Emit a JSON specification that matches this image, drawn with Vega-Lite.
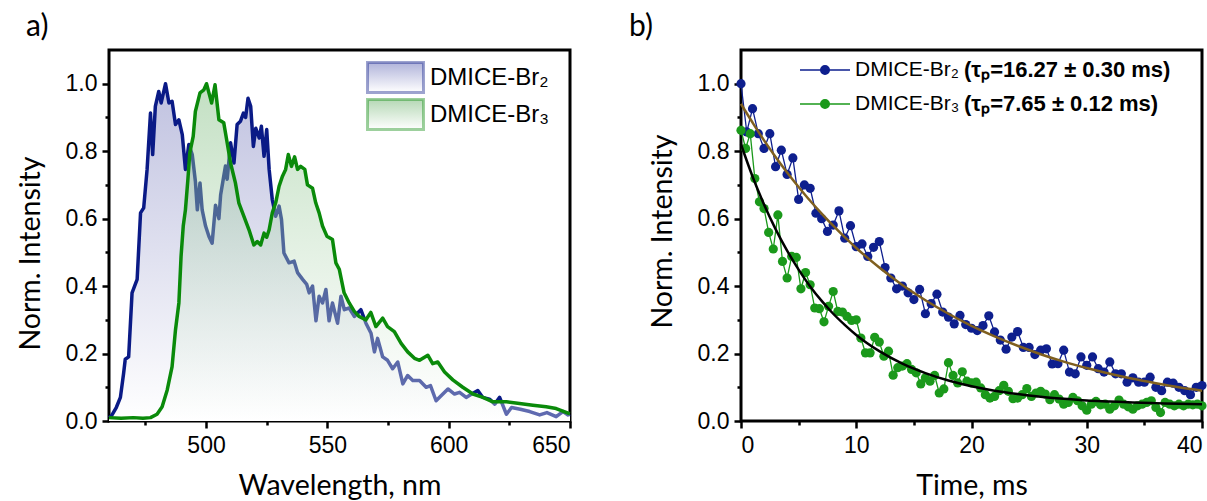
{
  "$schema": "https://vega.github.io/schema/vega-lite/v6.json",
  "background": "white",
  "padding": {"left": 14, "top": 10, "right": 0, "bottom": 0},
  "bounds": "flush",
  "spacing": 171,
  "config": {
    "font": "Liberation Sans",
    "view": {"stroke": "black", "strokeWidth": 3},
    "axis": {
      "domain": false, "grid": false,
      "labelFont": "Liberation Sans", "labelFontSize": 23, "labelColor": "black",
      "titleFont": "Lato", "titleFontSize": 28.5, "titleFontWeight": "normal", "titleColor": "black",
      "tickColor": "black", "tickWidth": 2.5
    },
    "legend": {"padding": 0}
  },
  "datasets": {
    "spec": [
      {"s":"DMICE-Br₂","w":460,"v":0.01},{"s":"DMICE-Br₂","w":461,"v":0.015},{"s":"DMICE-Br₂","w":463,"v":0.04},{"s":"DMICE-Br₂","w":464.7,"v":0.07},{"s":"DMICE-Br₂","w":466,"v":0.14},{"s":"DMICE-Br₂","w":466.7,"v":0.183},{"s":"DMICE-Br₂","w":468.1,"v":0.19},{"s":"DMICE-Br₂","w":469.5,"v":0.38},{"s":"DMICE-Br₂","w":471.6,"v":0.42},{"s":"DMICE-Br₂","w":473,"v":0.617},{"s":"DMICE-Br₂","w":474.3,"v":0.632},{"s":"DMICE-Br₂","w":475.7,"v":0.746},{"s":"DMICE-Br₂","w":477.1,"v":0.913},{"s":"DMICE-Br₂","w":478,"v":0.79},{"s":"DMICE-Br₂","w":479.1,"v":0.933},{"s":"DMICE-Br₂","w":480.5,"v":0.977},{"s":"DMICE-Br₂","w":481.5,"v":0.943},{"s":"DMICE-Br₂","w":483.3,"v":1.0},{"s":"DMICE-Br₂","w":484.7,"v":0.943},{"s":"DMICE-Br₂","w":486,"v":0.948},{"s":"DMICE-Br₂","w":487.4,"v":0.879},{"s":"DMICE-Br₂","w":488.8,"v":0.893},{"s":"DMICE-Br₂","w":490.2,"v":0.849},{"s":"DMICE-Br₂","w":491.5,"v":0.746},{"s":"DMICE-Br₂","w":492.9,"v":0.82},{"s":"DMICE-Br₂","w":494.3,"v":0.79},{"s":"DMICE-Br₂","w":495.6,"v":0.711},{"s":"DMICE-Br₂","w":496.4,"v":0.626},{"s":"DMICE-Br₂","w":497.5,"v":0.706},{"s":"DMICE-Br₂","w":498.4,"v":0.626},{"s":"DMICE-Br₂","w":499.8,"v":0.578},{"s":"DMICE-Br₂","w":501.2,"v":0.547},{"s":"DMICE-Br₂","w":502.5,"v":0.527},{"s":"DMICE-Br₂","w":503.9,"v":0.64},{"s":"DMICE-Br₂","w":505.3,"v":0.6},{"s":"DMICE-Br₂","w":506,"v":0.67},{"s":"DMICE-Br₂","w":507.3,"v":0.726},{"s":"DMICE-Br₂","w":508,"v":0.756},{"s":"DMICE-Br₂","w":508.7,"v":0.717},{"s":"DMICE-Br₂","w":509.4,"v":0.77},{"s":"DMICE-Br₂","w":510.1,"v":0.825},{"s":"DMICE-Br₂","w":511.5,"v":0.765},{"s":"DMICE-Br₂","w":512.8,"v":0.879},{"s":"DMICE-Br₂","w":514.2,"v":0.889},{"s":"DMICE-Br₂","w":515.4,"v":0.913},{"s":"DMICE-Br₂","w":516.3,"v":0.9},{"s":"DMICE-Br₂","w":517.3,"v":0.957},{"s":"DMICE-Br₂","w":518.4,"v":0.933},{"s":"DMICE-Br₂","w":519.5,"v":0.814},{"s":"DMICE-Br₂","w":520.5,"v":0.868},{"s":"DMICE-Br₂","w":521.9,"v":0.839},{"s":"DMICE-Br₂","w":522.8,"v":0.874},{"s":"DMICE-Br₂","w":523.9,"v":0.785},{"s":"DMICE-Br₂","w":525,"v":0.864},{"s":"DMICE-Br₂","w":526,"v":0.746},{"s":"DMICE-Br₂","w":527.3,"v":0.656},{"s":"DMICE-Br₂","w":528.7,"v":0.607},{"s":"DMICE-Br₂","w":530.1,"v":0.637},{"s":"DMICE-Br₂","w":531.1,"v":0.597},{"s":"DMICE-Br₂","w":532.1,"v":0.498},{"s":"DMICE-Br₂","w":534.2,"v":0.469},{"s":"DMICE-Br₂","w":536.3,"v":0.474},{"s":"DMICE-Br₂","w":537.7,"v":0.44},{"s":"DMICE-Br₂","w":539.8,"v":0.42},{"s":"DMICE-Br₂","w":541.5,"v":0.405},{"s":"DMICE-Br₂","w":542.5,"v":0.38},{"s":"DMICE-Br₂","w":543.9,"v":0.4},{"s":"DMICE-Br₂","w":545.3,"v":0.297},{"s":"DMICE-Br₂","w":546.6,"v":0.37},{"s":"DMICE-Br₂","w":548,"v":0.35},{"s":"DMICE-Br₂","w":549.4,"v":0.39},{"s":"DMICE-Br₂","w":550.7,"v":0.297},{"s":"DMICE-Br₂","w":552.1,"v":0.35},{"s":"DMICE-Br₂","w":554.2,"v":0.29},{"s":"DMICE-Br₂","w":555.6,"v":0.37},{"s":"DMICE-Br₂","w":557,"v":0.33},{"s":"DMICE-Br₂","w":559,"v":0.335},{"s":"DMICE-Br₂","w":561.1,"v":0.31},{"s":"DMICE-Br₂","w":563.8,"v":0.33},{"s":"DMICE-Br₂","w":565.9,"v":0.29},{"s":"DMICE-Br₂","w":568,"v":0.26},{"s":"DMICE-Br₂","w":569.4,"v":0.205},{"s":"DMICE-Br₂","w":570.7,"v":0.245},{"s":"DMICE-Br₂","w":572.8,"v":0.19},{"s":"DMICE-Br₂","w":574.8,"v":0.18},{"s":"DMICE-Br₂","w":576.9,"v":0.155},{"s":"DMICE-Br₂","w":579,"v":0.175},{"s":"DMICE-Br₂","w":581.1,"v":0.11},{"s":"DMICE-Br₂","w":583.1,"v":0.135},{"s":"DMICE-Br₂","w":585.2,"v":0.12},{"s":"DMICE-Br₂","w":588,"v":0.12},{"s":"DMICE-Br₂","w":590.7,"v":0.1},{"s":"DMICE-Br₂","w":592.5,"v":0.105},{"s":"DMICE-Br₂","w":594.8,"v":0.06},{"s":"DMICE-Br₂","w":597.6,"v":0.08},{"s":"DMICE-Br₂","w":599.7,"v":0.095},{"s":"DMICE-Br₂","w":602.4,"v":0.08},{"s":"DMICE-Br₂","w":604.5,"v":0.085},{"s":"DMICE-Br₂","w":607.2,"v":0.07},{"s":"DMICE-Br₂","w":609.5,"v":0.08},{"s":"DMICE-Br₂","w":612,"v":0.09},{"s":"DMICE-Br₂","w":614,"v":0.07},{"s":"DMICE-Br₂","w":616.8,"v":0.065},{"s":"DMICE-Br₂","w":619,"v":0.05},{"s":"DMICE-Br₂","w":621,"v":0.07},{"s":"DMICE-Br₂","w":623.8,"v":0.02},{"s":"DMICE-Br₂","w":625.9,"v":0.04},{"s":"DMICE-Br₂","w":629.5,"v":0.035},{"s":"DMICE-Br₂","w":633.4,"v":0.028},{"s":"DMICE-Br₂","w":637.5,"v":0.018},{"s":"DMICE-Br₂","w":640.5,"v":0.025},{"s":"DMICE-Br₂","w":644.3,"v":0.013},{"s":"DMICE-Br₂","w":647.1,"v":0.028},{"s":"DMICE-Br₂","w":649.2,"v":0.018},{"s":"DMICE-Br₂","w":650,"v":0.02},
      {"s":"DMICE-Br₃","w":460,"v":0.01},{"s":"DMICE-Br₃","w":465,"v":0.008},{"s":"DMICE-Br₃","w":470,"v":0.01},{"s":"DMICE-Br₃","w":474,"v":0.008},{"s":"DMICE-Br₃","w":477.1,"v":0.01},{"s":"DMICE-Br₃","w":479.8,"v":0.02},{"s":"DMICE-Br₃","w":481.9,"v":0.042},{"s":"DMICE-Br₃","w":484,"v":0.092},{"s":"DMICE-Br₃","w":486,"v":0.161},{"s":"DMICE-Br₃","w":487.4,"v":0.27},{"s":"DMICE-Br₃","w":488.8,"v":0.35},{"s":"DMICE-Br₃","w":489.7,"v":0.488},{"s":"DMICE-Br₃","w":490.6,"v":0.578},{"s":"DMICE-Br₃","w":491.5,"v":0.626},{"s":"DMICE-Br₃","w":492.5,"v":0.715},{"s":"DMICE-Br₃","w":493.3,"v":0.795},{"s":"DMICE-Br₃","w":494.7,"v":0.844},{"s":"DMICE-Br₃","w":495.6,"v":0.918},{"s":"DMICE-Br₃","w":497.5,"v":0.973},{"s":"DMICE-Br₃","w":499.1,"v":0.982},{"s":"DMICE-Br₃","w":500.2,"v":1.0},{"s":"DMICE-Br₃","w":501.3,"v":0.97},{"s":"DMICE-Br₃","w":502.3,"v":0.943},{"s":"DMICE-Br₃","w":503.7,"v":0.997},{"s":"DMICE-Br₃","w":505.3,"v":0.893},{"s":"DMICE-Br₃","w":507.3,"v":0.884},{"s":"DMICE-Br₃","w":508.7,"v":0.825},{"s":"DMICE-Br₃","w":510.1,"v":0.765},{"s":"DMICE-Br₃","w":512.1,"v":0.706},{"s":"DMICE-Br₃","w":513.5,"v":0.647},{"s":"DMICE-Br₃","w":515.6,"v":0.607},{"s":"DMICE-Br₃","w":517.7,"v":0.567},{"s":"DMICE-Br₃","w":519.7,"v":0.522},{"s":"DMICE-Br₃","w":521.1,"v":0.532},{"s":"DMICE-Br₃","w":522.5,"v":0.522},{"s":"DMICE-Br₃","w":523.9,"v":0.557},{"s":"DMICE-Br₃","w":525,"v":0.545},{"s":"DMICE-Br₃","w":526,"v":0.567},{"s":"DMICE-Br₃","w":527.3,"v":0.617},{"s":"DMICE-Br₃","w":528.7,"v":0.647},{"s":"DMICE-Br₃","w":530.1,"v":0.696},{"s":"DMICE-Br₃","w":531.5,"v":0.726},{"s":"DMICE-Br₃","w":532.8,"v":0.746},{"s":"DMICE-Br₃","w":533.9,"v":0.79},{"s":"DMICE-Br₃","w":535.2,"v":0.755},{"s":"DMICE-Br₃","w":536.5,"v":0.783},{"s":"DMICE-Br₃","w":537.7,"v":0.746},{"s":"DMICE-Br₃","w":539,"v":0.755},{"s":"DMICE-Br₃","w":540.7,"v":0.746},{"s":"DMICE-Br₃","w":541.8,"v":0.7},{"s":"DMICE-Br₃","w":543.9,"v":0.69},{"s":"DMICE-Br₃","w":545.2,"v":0.647},{"s":"DMICE-Br₃","w":546.6,"v":0.617},{"s":"DMICE-Br₃","w":548,"v":0.578},{"s":"DMICE-Br₃","w":549.8,"v":0.548},{"s":"DMICE-Br₃","w":552.1,"v":0.538},{"s":"DMICE-Br₃","w":553.5,"v":0.469},{"s":"DMICE-Br₃","w":554.9,"v":0.45},{"s":"DMICE-Br₃","w":556.9,"v":0.38},{"s":"DMICE-Br₃","w":559,"v":0.35},{"s":"DMICE-Br₃","w":561.1,"v":0.325},{"s":"DMICE-Br₃","w":563.1,"v":0.31},{"s":"DMICE-Br₃","w":565.9,"v":0.3},{"s":"DMICE-Br₃","w":567.9,"v":0.322},{"s":"DMICE-Br₃","w":570,"v":0.28},{"s":"DMICE-Br₃","w":572.8,"v":0.305},{"s":"DMICE-Br₃","w":574.8,"v":0.28},{"s":"DMICE-Br₃","w":577.6,"v":0.265},{"s":"DMICE-Br₃","w":580.4,"v":0.23},{"s":"DMICE-Br₃","w":583.1,"v":0.205},{"s":"DMICE-Br₃","w":585.9,"v":0.186},{"s":"DMICE-Br₃","w":588,"v":0.18},{"s":"DMICE-Br₃","w":591.4,"v":0.195},{"s":"DMICE-Br₃","w":593.4,"v":0.17},{"s":"DMICE-Br₃","w":595.5,"v":0.175},{"s":"DMICE-Br₃","w":598.3,"v":0.145},{"s":"DMICE-Br₃","w":601.7,"v":0.122},{"s":"DMICE-Br₃","w":605.8,"v":0.1},{"s":"DMICE-Br₃","w":610,"v":0.08},{"s":"DMICE-Br₃","w":614.1,"v":0.07},{"s":"DMICE-Br₃","w":618.2,"v":0.057},{"s":"DMICE-Br₃","w":623.8,"v":0.057},{"s":"DMICE-Br₃","w":629.2,"v":0.052},{"s":"DMICE-Br₃","w":634.7,"v":0.047},{"s":"DMICE-Br₃","w":640.2,"v":0.042},{"s":"DMICE-Br₃","w":644.3,"v":0.037},{"s":"DMICE-Br₃","w":649.2,"v":0.023},{"s":"DMICE-Br₃","w":650,"v":0.022}
    ],
    "decay": [
      {"s":"DMICE-Br₂","t":0,"v":1.0},{"s":"DMICE-Br₂","t":0.5,"v":0.857},{"s":"DMICE-Br₂","t":1,"v":0.926},{"s":"DMICE-Br₂","t":1.5,"v":0.852},{"s":"DMICE-Br₂","t":2,"v":0.808},{"s":"DMICE-Br₂","t":2.5,"v":0.852},{"s":"DMICE-Br₂","t":3,"v":0.754},{"s":"DMICE-Br₂","t":3.5,"v":0.803},{"s":"DMICE-Br₂","t":4,"v":0.731},{"s":"DMICE-Br₂","t":4.5,"v":0.78},{"s":"DMICE-Br₂","t":5,"v":0.657},{"s":"DMICE-Br₂","t":5.5,"v":0.7},{"s":"DMICE-Br₂","t":6,"v":0.69},{"s":"DMICE-Br₂","t":6.5,"v":0.616},{"s":"DMICE-Br₂","t":7,"v":0.6},{"s":"DMICE-Br₂","t":7.5,"v":0.562},{"s":"DMICE-Br₂","t":8,"v":0.581},{"s":"DMICE-Br₂","t":8.5,"v":0.623},{"s":"DMICE-Br₂","t":9,"v":0.542},{"s":"DMICE-Br₂","t":9.5,"v":0.579},{"s":"DMICE-Br₂","t":10,"v":0.517},{"s":"DMICE-Br₂","t":10.5,"v":0.525},{"s":"DMICE-Br₂","t":11,"v":0.488},{"s":"DMICE-Br₂","t":11.5,"v":0.515},{"s":"DMICE-Br₂","t":12,"v":0.532},{"s":"DMICE-Br₂","t":12.5,"v":0.455},{"s":"DMICE-Br₂","t":13,"v":0.424},{"s":"DMICE-Br₂","t":13.5,"v":0.392},{"s":"DMICE-Br₂","t":14,"v":0.4},{"s":"DMICE-Br₂","t":14.5,"v":0.38},{"s":"DMICE-Br₂","t":15,"v":0.36},{"s":"DMICE-Br₂","t":15.5,"v":0.39},{"s":"DMICE-Br₂","t":16,"v":0.318},{"s":"DMICE-Br₂","t":16.5,"v":0.348},{"s":"DMICE-Br₂","t":17,"v":0.376},{"s":"DMICE-Br₂","t":17.5,"v":0.323},{"s":"DMICE-Br₂","t":18,"v":0.308},{"s":"DMICE-Br₂","t":18.5,"v":0.288},{"s":"DMICE-Br₂","t":19,"v":0.313},{"s":"DMICE-Br₂","t":19.5,"v":0.286},{"s":"DMICE-Br₂","t":20,"v":0.275},{"s":"DMICE-Br₂","t":20.5,"v":0.268},{"s":"DMICE-Br₂","t":21,"v":0.283},{"s":"DMICE-Br₂","t":21.5,"v":0.312},{"s":"DMICE-Br₂","t":22,"v":0.264},{"s":"DMICE-Br₂","t":22.5,"v":0.24},{"s":"DMICE-Br₂","t":23,"v":0.213},{"s":"DMICE-Br₂","t":23.5,"v":0.249},{"s":"DMICE-Br₂","t":24,"v":0.265},{"s":"DMICE-Br₂","t":24.5,"v":0.218},{"s":"DMICE-Br₂","t":25,"v":0.218},{"s":"DMICE-Br₂","t":25.5,"v":0.197},{"s":"DMICE-Br₂","t":26,"v":0.21},{"s":"DMICE-Br₂","t":26.5,"v":0.214},{"s":"DMICE-Br₂","t":27,"v":0.169},{"s":"DMICE-Br₂","t":27.5,"v":0.17},{"s":"DMICE-Br₂","t":28,"v":0.21},{"s":"DMICE-Br₂","t":28.5,"v":0.145},{"s":"DMICE-Br₂","t":29,"v":0.14},{"s":"DMICE-Br₂","t":29.5,"v":0.19},{"s":"DMICE-Br₂","t":30,"v":0.165},{"s":"DMICE-Br₂","t":30.5,"v":0.19},{"s":"DMICE-Br₂","t":31,"v":0.155},{"s":"DMICE-Br₂","t":31.5,"v":0.145},{"s":"DMICE-Br₂","t":32,"v":0.175},{"s":"DMICE-Br₂","t":32.5,"v":0.14},{"s":"DMICE-Br₂","t":33,"v":0.14},{"s":"DMICE-Br₂","t":33.5,"v":0.115},{"s":"DMICE-Br₂","t":34,"v":0.128},{"s":"DMICE-Br₂","t":34.5,"v":0.115},{"s":"DMICE-Br₂","t":35,"v":0.115},{"s":"DMICE-Br₂","t":35.5,"v":0.13},{"s":"DMICE-Br₂","t":36,"v":0.1},{"s":"DMICE-Br₂","t":36.5,"v":0.09},{"s":"DMICE-Br₂","t":37,"v":0.115},{"s":"DMICE-Br₂","t":37.5,"v":0.112},{"s":"DMICE-Br₂","t":38,"v":0.1},{"s":"DMICE-Br₂","t":38.5,"v":0.09},{"s":"DMICE-Br₂","t":39,"v":0.078},{"s":"DMICE-Br₂","t":39.5,"v":0.1},{"s":"DMICE-Br₂","t":40,"v":0.105},
      {"s":"DMICE-Br₃","t":0,"v":0.862},{"s":"DMICE-Br₃","t":0.4,"v":0.808},{"s":"DMICE-Br₃","t":0.8,"v":0.852},{"s":"DMICE-Br₃","t":1.2,"v":0.719},{"s":"DMICE-Br₃","t":1.6,"v":0.65},{"s":"DMICE-Br₃","t":2,"v":0.63},{"s":"DMICE-Br₃","t":2.4,"v":0.559},{"s":"DMICE-Br₃","t":2.8,"v":0.51},{"s":"DMICE-Br₃","t":3.2,"v":0.611},{"s":"DMICE-Br₃","t":3.6,"v":0.473},{"s":"DMICE-Br₃","t":4,"v":0.424},{"s":"DMICE-Br₃","t":4.4,"v":0.488},{"s":"DMICE-Br₃","t":4.8,"v":0.485},{"s":"DMICE-Br₃","t":5.2,"v":0.392},{"s":"DMICE-Br₃","t":5.6,"v":0.44},{"s":"DMICE-Br₃","t":6,"v":0.404},{"s":"DMICE-Br₃","t":6.4,"v":0.335},{"s":"DMICE-Br₃","t":6.8,"v":0.333},{"s":"DMICE-Br₃","t":7.2,"v":0.294},{"s":"DMICE-Br₃","t":7.6,"v":0.34},{"s":"DMICE-Br₃","t":8,"v":0.384},{"s":"DMICE-Br₃","t":8.4,"v":0.325},{"s":"DMICE-Br₃","t":8.8,"v":0.323},{"s":"DMICE-Br₃","t":9.2,"v":0.31},{"s":"DMICE-Br₃","t":9.6,"v":0.298},{"s":"DMICE-Br₃","t":10,"v":0.3},{"s":"DMICE-Br₃","t":10.4,"v":0.246},{"s":"DMICE-Br₃","t":10.8,"v":0.202},{"s":"DMICE-Br₃","t":11.2,"v":0.202},{"s":"DMICE-Br₃","t":11.6,"v":0.248},{"s":"DMICE-Br₃","t":12,"v":0.234},{"s":"DMICE-Br₃","t":12.4,"v":0.192},{"s":"DMICE-Br₃","t":12.8,"v":0.207},{"s":"DMICE-Br₃","t":13.2,"v":0.136},{"s":"DMICE-Br₃","t":13.6,"v":0.158},{"s":"DMICE-Br₃","t":14,"v":0.163},{"s":"DMICE-Br₃","t":14.4,"v":0.17},{"s":"DMICE-Br₃","t":14.8,"v":0.153},{"s":"DMICE-Br₃","t":15.2,"v":0.143},{"s":"DMICE-Br₃","t":15.6,"v":0.11},{"s":"DMICE-Br₃","t":16,"v":0.128},{"s":"DMICE-Br₃","t":16.4,"v":0.118},{"s":"DMICE-Br₃","t":16.8,"v":0.135},{"s":"DMICE-Br₃","t":17.2,"v":0.083},{"s":"DMICE-Br₃","t":17.6,"v":0.095},{"s":"DMICE-Br₃","t":18,"v":0.173},{"s":"DMICE-Br₃","t":18.4,"v":0.135},{"s":"DMICE-Br₃","t":18.8,"v":0.113},{"s":"DMICE-Br₃","t":19.2,"v":0.146},{"s":"DMICE-Br₃","t":19.6,"v":0.118},{"s":"DMICE-Br₃","t":20,"v":0.113},{"s":"DMICE-Br₃","t":20.4,"v":0.115},{"s":"DMICE-Br₃","t":20.8,"v":0.098},{"s":"DMICE-Br₃","t":21.2,"v":0.078},{"s":"DMICE-Br₃","t":21.6,"v":0.068},{"s":"DMICE-Br₃","t":22,"v":0.073},{"s":"DMICE-Br₃","t":22.4,"v":0.09},{"s":"DMICE-Br₃","t":22.8,"v":0.106},{"s":"DMICE-Br₃","t":23.2,"v":0.088},{"s":"DMICE-Br₃","t":23.6,"v":0.066},{"s":"DMICE-Br₃","t":24,"v":0.068},{"s":"DMICE-Br₃","t":24.4,"v":0.078},{"s":"DMICE-Br₃","t":24.8,"v":0.096},{"s":"DMICE-Br₃","t":25.2,"v":0.073},{"s":"DMICE-Br₃","t":25.6,"v":0.083},{"s":"DMICE-Br₃","t":26,"v":0.088},{"s":"DMICE-Br₃","t":26.4,"v":0.08},{"s":"DMICE-Br₃","t":26.8,"v":0.063},{"s":"DMICE-Br₃","t":27.2,"v":0.078},{"s":"DMICE-Br₃","t":27.6,"v":0.065},{"s":"DMICE-Br₃","t":28,"v":0.05},{"s":"DMICE-Br₃","t":28.4,"v":0.055},{"s":"DMICE-Br₃","t":28.8,"v":0.07},{"s":"DMICE-Br₃","t":29.2,"v":0.06},{"s":"DMICE-Br₃","t":29.6,"v":0.045},{"s":"DMICE-Br₃","t":30,"v":0.032},{"s":"DMICE-Br₃","t":30.4,"v":0.05},{"s":"DMICE-Br₃","t":30.8,"v":0.058},{"s":"DMICE-Br₃","t":31.2,"v":0.048},{"s":"DMICE-Br₃","t":31.6,"v":0.05},{"s":"DMICE-Br₃","t":32,"v":0.035},{"s":"DMICE-Br₃","t":32.4,"v":0.045},{"s":"DMICE-Br₃","t":32.8,"v":0.062},{"s":"DMICE-Br₃","t":33.2,"v":0.05},{"s":"DMICE-Br₃","t":33.6,"v":0.042},{"s":"DMICE-Br₃","t":34,"v":0.035},{"s":"DMICE-Br₃","t":34.4,"v":0.045},{"s":"DMICE-Br₃","t":34.8,"v":0.05},{"s":"DMICE-Br₃","t":35.2,"v":0.055},{"s":"DMICE-Br₃","t":35.6,"v":0.06},{"s":"DMICE-Br₃","t":36,"v":0.04},{"s":"DMICE-Br₃","t":36.4,"v":0.025},{"s":"DMICE-Br₃","t":36.8,"v":0.055},{"s":"DMICE-Br₃","t":37.2,"v":0.05},{"s":"DMICE-Br₃","t":37.6,"v":0.045},{"s":"DMICE-Br₃","t":38,"v":0.05},{"s":"DMICE-Br₃","t":38.4,"v":0.045},{"s":"DMICE-Br₃","t":38.8,"v":0.05},{"s":"DMICE-Br₃","t":39.2,"v":0.048},{"s":"DMICE-Br₃","t":39.6,"v":0.05},{"s":"DMICE-Br₃","t":40,"v":0.045}
    ],
    "fit": [
      {"f":"(τₚ=16.27 ± 0.30 ms)","t":0,"v":0.94},{"f":"(τₚ=16.27 ± 0.30 ms)","t":1,"v":0.885},{"f":"(τₚ=16.27 ± 0.30 ms)","t":2,"v":0.832},{"f":"(τₚ=16.27 ± 0.30 ms)","t":3,"v":0.783},{"f":"(τₚ=16.27 ± 0.30 ms)","t":4,"v":0.737},{"f":"(τₚ=16.27 ± 0.30 ms)","t":5,"v":0.694},{"f":"(τₚ=16.27 ± 0.30 ms)","t":6,"v":0.653},{"f":"(τₚ=16.27 ± 0.30 ms)","t":7,"v":0.615},{"f":"(τₚ=16.27 ± 0.30 ms)","t":8,"v":0.579},{"f":"(τₚ=16.27 ± 0.30 ms)","t":9,"v":0.545},{"f":"(τₚ=16.27 ± 0.30 ms)","t":10,"v":0.513},{"f":"(τₚ=16.27 ± 0.30 ms)","t":12,"v":0.455},{"f":"(τₚ=16.27 ± 0.30 ms)","t":14,"v":0.403},{"f":"(τₚ=16.27 ± 0.30 ms)","t":16,"v":0.358},{"f":"(τₚ=16.27 ± 0.30 ms)","t":18,"v":0.318},{"f":"(τₚ=16.27 ± 0.30 ms)","t":20,"v":0.282},{"f":"(τₚ=16.27 ± 0.30 ms)","t":22,"v":0.251},{"f":"(τₚ=16.27 ± 0.30 ms)","t":24,"v":0.223},{"f":"(τₚ=16.27 ± 0.30 ms)","t":26,"v":0.198},{"f":"(τₚ=16.27 ± 0.30 ms)","t":28,"v":0.176},{"f":"(τₚ=16.27 ± 0.30 ms)","t":30,"v":0.157},{"f":"(τₚ=16.27 ± 0.30 ms)","t":32,"v":0.14},{"f":"(τₚ=16.27 ± 0.30 ms)","t":34,"v":0.125},{"f":"(τₚ=16.27 ± 0.30 ms)","t":36,"v":0.112},{"f":"(τₚ=16.27 ± 0.30 ms)","t":38,"v":0.1},{"f":"(τₚ=16.27 ± 0.30 ms)","t":40,"v":0.09},
      {"f":"(τₚ=7.65 ± 0.12 ms)","t":0,"v":0.82},{"f":"(τₚ=7.65 ± 0.12 ms)","t":1,"v":0.725},{"f":"(τₚ=7.65 ± 0.12 ms)","t":2,"v":0.642},{"f":"(τₚ=7.65 ± 0.12 ms)","t":3,"v":0.569},{"f":"(τₚ=7.65 ± 0.12 ms)","t":4,"v":0.505},{"f":"(τₚ=7.65 ± 0.12 ms)","t":5,"v":0.449},{"f":"(τₚ=7.65 ± 0.12 ms)","t":6,"v":0.399},{"f":"(τₚ=7.65 ± 0.12 ms)","t":7,"v":0.356},{"f":"(τₚ=7.65 ± 0.12 ms)","t":8,"v":0.318},{"f":"(τₚ=7.65 ± 0.12 ms)","t":9,"v":0.285},{"f":"(τₚ=7.65 ± 0.12 ms)","t":10,"v":0.255},{"f":"(τₚ=7.65 ± 0.12 ms)","t":12,"v":0.207},{"f":"(τₚ=7.65 ± 0.12 ms)","t":14,"v":0.17},{"f":"(τₚ=7.65 ± 0.12 ms)","t":16,"v":0.142},{"f":"(τₚ=7.65 ± 0.12 ms)","t":18,"v":0.12},{"f":"(τₚ=7.65 ± 0.12 ms)","t":20,"v":0.103},{"f":"(τₚ=7.65 ± 0.12 ms)","t":22,"v":0.09},{"f":"(τₚ=7.65 ± 0.12 ms)","t":24,"v":0.08},{"f":"(τₚ=7.65 ± 0.12 ms)","t":26,"v":0.072},{"f":"(τₚ=7.65 ± 0.12 ms)","t":28,"v":0.066},{"f":"(τₚ=7.65 ± 0.12 ms)","t":30,"v":0.061},{"f":"(τₚ=7.65 ± 0.12 ms)","t":32,"v":0.058},{"f":"(τₚ=7.65 ± 0.12 ms)","t":34,"v":0.055},{"f":"(τₚ=7.65 ± 0.12 ms)","t":36,"v":0.053},{"f":"(τₚ=7.65 ± 0.12 ms)","t":38,"v":0.051},{"f":"(τₚ=7.65 ± 0.12 ms)","t":40,"v":0.05}
    ]
  },
  "resolve": {"scale": {"color": "independent", "stroke": "independent"}, "legend": {"color": "independent", "stroke": "independent"}},
  "hconcat": [
    {
      "width": 461, "height": 371,
      "title": {"text": "a)", "anchor": "start", "frame": "group", "dx": -83, "offset": 8, "fontSize": 30, "font": "Lato", "fontWeight": "normal", "color": "black"},
      "data": {"name": "spec"},
      "encoding": {
        "x": {"field": "w", "type": "quantitative",
          "scale": {"domain": [460, 650], "nice": false, "zero": false},
          "axis": {"title": "Wavelength, nm", "values": [475, 500, 525, 550, 575, 600, 625, 650], "format": "d",
            "labelExpr": "datum.value % 50 === 0 ? datum.label : ''",
            "tickSize": {"condition": {"test": "datum.value % 50 !== 0", "value": 4}, "value": 7},
            "labelPadding": 6, "titlePadding": 14}},
        "y": {"field": "v", "type": "quantitative",
          "scale": {"domain": [0, 1.1], "nice": false},
          "axis": {"title": "Norm. Intensity", "values": [0, 0.1, 0.2, 0.3, 0.4, 0.5, 0.6, 0.7, 0.8, 0.9, 1.0], "format": ".1f",
            "labelExpr": "round(datum.value*10) % 2 === 0 ? datum.label : ''",
            "tickSize": {"condition": {"test": "round(datum.value*10) % 2 !== 0", "value": 4}, "value": 7},
            "labelPadding": 5, "titlePadding": 20, "titleY": 203}}
      },
      "layer": [
        {"transform": [{"filter": "datum.s === 'DMICE-Br₂'"}],
         "mark": {"type": "area", "fill": {"gradient": "linear", "x1": 1, "y1": 1, "x2": 1, "y2": 0, "stops": [{"offset": 0, "color": "#ffffff"}, {"offset": 1, "color": "#c0c2e0"}]}, "fillOpacity": 1}},
        {"transform": [{"filter": "datum.s === 'DMICE-Br₂'"}],
         "mark": {"type": "line", "strokeWidth": 3.5, "strokeJoin": "round"},
         "encoding": {"color": {"field": "s", "type": "nominal",
           "scale": {"domain": ["DMICE-Br₂", "DMICE-Br₃"], "range": ["#0a1a86", "#0a8a0a"]},
           "legend": {"title": null, "orient": "none", "legendX": 257, "legendY": 11, "clipHeight": 33,
             "symbolType": "M-1,-0.536H1V0.536H-1Z", "symbolSize": 3136, "symbolStrokeWidth": 3,
             "labelFont": "Liberation Sans", "labelFontSize": 24, "labelColor": "black", "labelOffset": 5, "rowPadding": 4, "padding": 0,
             "encode": {"symbols": {"update": {"strokeOpacity": {"value": 0.4},
               "fill": {"signal": "datum.value === 'DMICE-Br₂' ? {gradient: 'linear', x1: 0, y1: 1, x2: 0, y2: 0, stops: [{offset: 0, color: '#ffffff'}, {offset: 1, color: '#b0b3da'}]} : {gradient: 'linear', x1: 0, y1: 1, x2: 0, y2: 0, stops: [{offset: 0, color: '#ffffff'}, {offset: 1, color: '#b5d8b5'}]}"},
               "fillOpacity": {"value": 1}}}}}}}},
        {"transform": [{"filter": "datum.s === 'DMICE-Br₃'"}],
         "mark": {"type": "area", "fill": {"gradient": "linear", "x1": 1, "y1": 1, "x2": 1, "y2": 0, "stops": [{"offset": 0, "color": "rgba(255,255,255,0.35)"}, {"offset": 1, "color": "rgba(120,185,120,0.45)"}]}}},
        {"transform": [{"filter": "datum.s === 'DMICE-Br₃'"}],
         "mark": {"type": "line", "strokeWidth": 3.5, "strokeJoin": "round"},
         "encoding": {"color": {"field": "s", "type": "nominal"}}}
      ]
    },
    {
      "width": 461, "height": 371,
      "title": {"text": "b)", "anchor": "start", "frame": "group", "dx": -112, "offset": 8, "fontSize": 30, "font": "Lato", "fontWeight": "normal", "color": "black"},
      "encoding": {
        "x": {"field": "t", "type": "quantitative",
          "scale": {"domain": [0, 40], "nice": false, "zero": false},
          "axis": {"title": "Time, ms", "values": [0, 5, 10, 15, 20, 25, 30, 35, 40], "format": "d",
            "labelExpr": "datum.value % 10 === 0 ? datum.label : ''",
            "tickSize": {"condition": {"test": "datum.value % 10 !== 0", "value": 4}, "value": 7},
            "labelPadding": 6, "titlePadding": 14}},
        "y": {"field": "v", "type": "quantitative",
          "scale": {"domain": [0, 1.1], "nice": false},
          "axis": {"title": "Norm. Intensity", "values": [0, 0.1, 0.2, 0.3, 0.4, 0.5, 0.6, 0.7, 0.8, 0.9, 1.0], "format": ".1f",
            "labelExpr": "round(datum.value*10) % 2 === 0 ? datum.label : ''",
            "tickSize": {"condition": {"test": "round(datum.value*10) % 2 !== 0", "value": 4}, "value": 7},
            "labelPadding": 5, "titlePadding": 20, "titleY": 181}}
      },
      "layer": [
        {"data": {"name": "decay"},
         "mark": {"type": "line", "strokeWidth": 1.3},
         "encoding": {"color": {"field": "s", "type": "nominal",
           "scale": {"domain": ["DMICE-Br₂", "DMICE-Br₃"], "range": ["#0e1f8e", "#1b991b"]},
           "legend": {"title": null, "orient": "none", "legendX": 58, "legendY": 9, "clipHeight": 22,
             "symbolType": "M-1,0H1M-0.17,0A0.17,0.17,0,1,1,0.17,0A0.17,0.17,0,1,1,-0.17,0Z", "symbolSize": 2500, "symbolStrokeWidth": 1.5,
             "labelFont": "Liberation Sans", "labelFontSize": 21, "labelColor": "black", "labelOffset": 4, "rowPadding": 12, "padding": 0,
             "encode": {"symbols": {"update": {"fill": {"signal": "datum.value === 'DMICE-Br₂' ? '#0e1f8e' : '#1b991b'"}, "fillOpacity": {"value": 1}, "strokeOpacity": {"value": 1}, "opacity": {"value": 1}}}}}}}},
        {"data": {"name": "decay"},
         "mark": {"type": "point", "filled": true, "shape": "circle", "size": 85, "opacity": 1},
         "encoding": {"color": {"field": "s", "type": "nominal"}}},
        {"data": {"name": "fit"},
         "mark": {"type": "line", "strokeWidth": 2.5, "interpolate": "monotone"},
         "encoding": {"stroke": {"field": "f", "type": "nominal",
           "scale": {"domain": ["(τₚ=16.27 ± 0.30 ms)", "(τₚ=7.65 ± 0.12 ms)"], "range": ["#7f5f1f", "#000000"]},
           "legend": {"title": null, "orient": "none", "legendX": 167, "legendY": 9, "clipHeight": 22,
             "symbolType": "M-1,0H1M-0.17,0A0.17,0.17,0,1,1,0.17,0A0.17,0.17,0,1,1,-0.17,0Z", "symbolSize": 2500, "symbolOpacity": 0, "symbolStrokeWidth": 1.5,
             "labelFont": "Liberation Sans", "labelFontSize": 22, "labelFontWeight": "bold", "labelColor": "black", "labelOffset": 4, "labelLimit": 0, "rowPadding": 12, "padding": 0}}}}
      ]
    }
  ]
}
